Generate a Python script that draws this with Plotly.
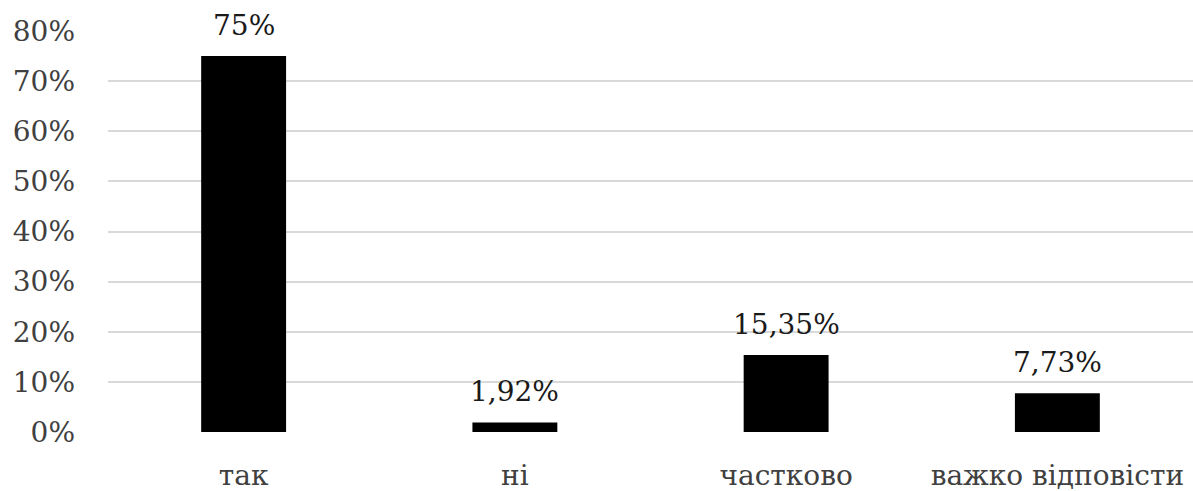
import plotly.graph_objects as go

# Survey answers and their shares
categories = ["так", "ні", "частково", "важко відповісти"]
shares = [0.75, 0.0192, 0.1535, 0.0773]
y_ticks = [0, 0.1, 0.2, 0.3, 0.4, 0.5, 0.6, 0.7, 0.8]
y_tick_labels = ["0%", "10%", "20%", "30%", "40%", "50%", "60%", "70%", "80%"]


def pct_label(v):
    p = round(v * 100, 2)
    if p == int(p):
        return f"{int(p)}%"
    return f"{p:.2f}".replace(".", ",") + "%"


labels = [pct_label(v) for v in shares]

FONT = "DejaVu Serif"

fig = go.Figure(
    go.Bar(
        x=categories,
        y=shares,
        marker=dict(color="#000000", line=dict(width=0)),
        width=0.313,
    )
)

# value labels above each bar
for c, v, t in zip(categories, shares, labels):
    fig.add_annotation(
        x=c, y=v, text=t, showarrow=False,
        xanchor="center", yanchor="bottom", yshift=12,
        font=dict(family=FONT, size=28, color="#1a1a1a"),
    )

fig.update_layout(
    width=1193,
    height=491,
    margin=dict(l=108, r=0, t=31, b=59),
    paper_bgcolor="white",
    plot_bgcolor="white",
    showlegend=False,
    font=dict(family=FONT, size=28, color="#404040"),
)

fig.update_yaxes(
    range=[0, 0.8],
    tickvals=y_ticks,
    ticktext=y_tick_labels,
    showgrid=True,
    gridcolor="#d9d9d9",
    gridwidth=1.5,
    zeroline=False,
    showline=False,
    ticks="",
    ticklabelstandoff=32,
    tickfont=dict(family=FONT, size=28, color="#404040"),
)

fig.update_xaxes(
    showgrid=False,
    showline=False,
    zeroline=False,
    ticks="",
    ticklabelstandoff=24,
    tickfont=dict(family=FONT, size=28, color="#404040"),
)

fig.write_html("out.html")
